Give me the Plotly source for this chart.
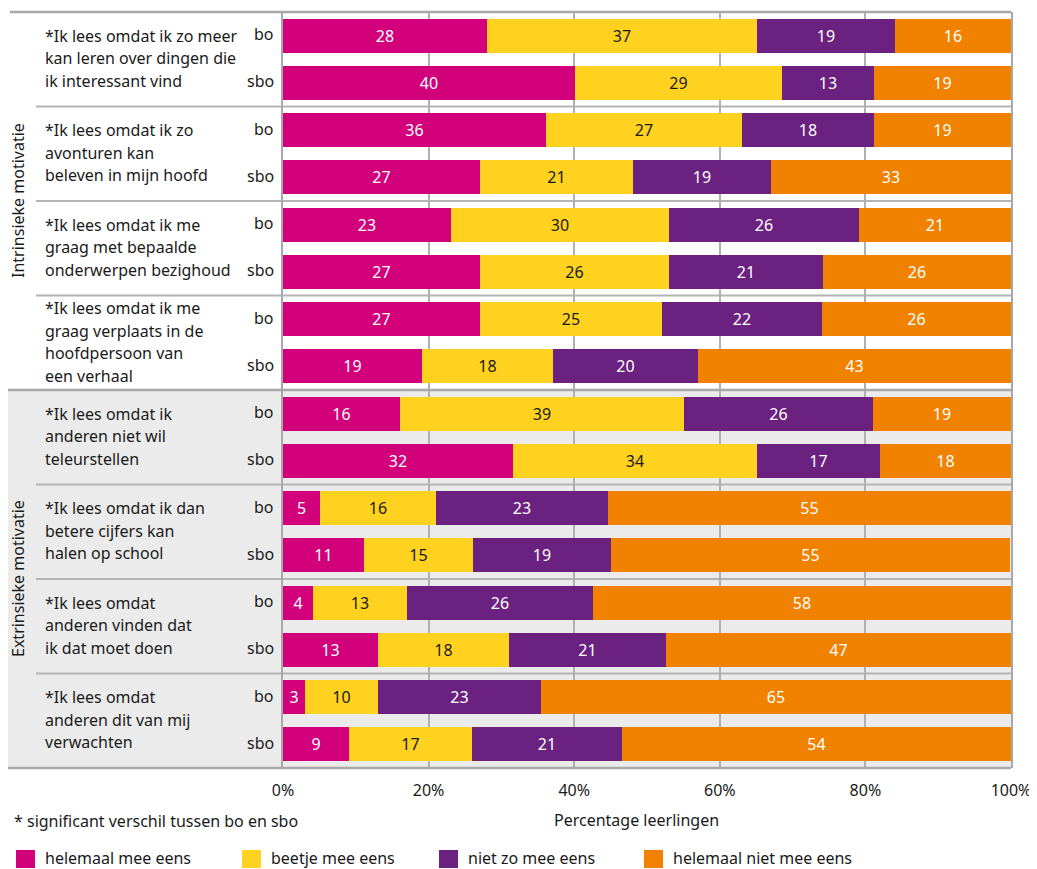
import plotly.graph_objects as go

# ---------------- data ----------------
groups = [
    "*Ik lees omdat ik zo meer<br>kan leren over dingen die<br>ik interessant vind",
    "*Ik lees omdat ik zo<br>avonturen kan<br>beleven in mijn hoofd",
    "*Ik lees omdat ik me<br>graag met bepaalde<br>onderwerpen bezighoud",
    "*Ik lees omdat ik me<br>graag verplaats in de<br>hoofdpersoon van<br>een verhaal",
    "*Ik lees omdat ik<br>anderen niet wil<br>teleurstellen",
    "*Ik lees omdat ik dan<br>betere cijfers kan<br>halen op school",
    "*Ik lees omdat<br>anderen vinden dat<br>ik dat moet doen",
    "*Ik lees omdat<br>anderen dit van mij<br>verwachten",
]
school_types = ["bo", "sbo"]
sections = ["Intrinsieke motivatie", "Extrinsieke motivatie"]

series_names = ["helemaal mee eens", "beetje mee eens", "niet zo mee eens", "helemaal niet mee eens"]

# bar values (order: group1 bo, group1 sbo, group2 bo, ...)
helemaal_mee = [28.0, 40.1, 36.1, 27.1, 23.1, 27.1, 27.1, 19.1,
                16.1, 31.6, 5.1, 11.1, 4.1, 13.0, 3.0, 9.1]
beetje_mee = [37.1, 28.4, 26.9, 21.0, 29.9, 25.9, 25.0, 18.0,
              39.0, 33.5, 15.9, 15.0, 12.9, 18.0, 10.0, 16.9]
niet_zo_mee = [19.0, 12.7, 18.2, 18.9, 26.1, 21.2, 21.9, 19.9,
               25.9, 16.9, 23.6, 19.0, 25.6, 21.6, 22.4, 20.6]
helemaal_niet = [15.9, 18.8, 18.8, 33.0, 20.9, 25.8, 26.0, 43.0,
                 19.0, 18.0, 55.4, 54.8, 57.4, 47.4, 64.6, 53.4]

# printed labels
helemaal_mee_lbl = [28, 40, 36, 27, 23, 27, 27, 19, 16, 32, 5, 11, 4, 13, 3, 9]
beetje_mee_lbl = [37, 29, 27, 21, 30, 26, 25, 18, 39, 34, 16, 15, 13, 18, 10, 17]
niet_zo_mee_lbl = [19, 13, 18, 19, 26, 21, 22, 20, 26, 17, 23, 19, 26, 21, 23, 21]
helemaal_niet_lbl = [16, 19, 19, 33, 21, 26, 26, 43, 19, 18, 55, 55, 58, 47, 65, 54]

tick_vals = [0, 20, 40, 60, 80, 100]
tick_text = ["0%", "20%", "40%", "60%", "80%", "100%"]

colors = ["#D2007A", "#FFD21F", "#6A2180", "#F08200"]
text_colors = ["#ffffff", "#1a1a1a", "#ffffff", "#ffffff"]

# ---------------- layout helpers ----------------
# the page body has an 8px margin, so the figure is placed 8px in from the window edge
OFF = 8
W, H = 1037 - OFF, 869 - OFF
L, R, T, B = 283, 1011, 12, 768  # window pixel coordinates of the plot area
FONT = "Noto Sans"
TXT = "#1a1a1a"
LINE = "#a8a8a8"


def px(x):
    return (x - L) / (R - L)


def py(y):
    return (B - y) / (B - T)


n_rows = len(groups) * len(school_types)
rows = list(range(n_rows))

fig = go.Figure()
all_vals = [helemaal_mee, beetje_mee, niet_zo_mee, helemaal_niet]
all_lbls = [helemaal_mee_lbl, beetje_mee_lbl, niet_zo_mee_lbl, helemaal_niet_lbl]
for name, vals, lbls, c, tc in zip(series_names, all_vals, all_lbls, colors, text_colors):
    fig.add_trace(go.Bar(
        name=name, orientation="h", x=vals, y=rows, width=0.72,
        marker=dict(color=c, line=dict(width=0)),
        text=[str(v) for v in lbls], textposition="inside",
        insidetextanchor="middle", textangle=0,
        textfont=dict(family=FONT, size=16, color=tc),
        hoverinfo="skip", showlegend=False,
    ))

shapes = []
# grey background for extrinsic block
shapes.append(dict(type="rect", xref="paper", yref="paper", x0=px(8), x1=1,
                   y0=0, y1=0.5, fillcolor="#ebebeb", line=dict(width=0), layer="below"))
# group separators
for g in range(1, len(groups)):
    if g == 4:
        continue
    yv = 2 * g - 0.5
    shapes.append(dict(type="line", xref="paper", yref="y", x0=px(36), x1=1,
                       y0=yv, y1=yv, line=dict(color="#b4b4b4", width=1.8), layer="below"))
# main borders
shapes.append(dict(type="line", xref="paper", yref="paper", x0=px(10), x1=1, y0=1, y1=1,
                   line=dict(color=LINE, width=2.5), layer="above"))
shapes.append(dict(type="line", xref="paper", yref="paper", x0=px(8), x1=1, y0=0.5, y1=0.5,
                   line=dict(color=LINE, width=2.5), layer="above"))
shapes.append(dict(type="line", xref="paper", yref="paper", x0=px(8), x1=1, y0=0, y1=0,
                   line=dict(color=LINE, width=2.5), layer="above"))

annotations = []
# bo / sbo labels
for i in rows:
    annotations.append(dict(xref="paper", yref="y", x=px(276), y=i, yshift=1.5,
                            xanchor="right", yanchor="middle", text=school_types[i % 2],
                            showarrow=False, font=dict(family=FONT, size=16, color=TXT)))
# group labels (one annotation per line)
LH = 22.5
for g, lab in enumerate(groups):
    lines = lab.split("<br>")
    n = len(lines)
    for j, ln in enumerate(lines):
        annotations.append(dict(xref="paper", yref="y", x=px(43), y=2 * g + 0.5,
                                yshift=-(j - (n - 1) / 2) * LH + 1,
                                xanchor="left", yanchor="middle", text=ln, showarrow=False,
                                font=dict(family=FONT, size=16, color=TXT)))
# section titles
for s, yc in zip(sections, [0.75, 0.25]):
    annotations.append(dict(xref="paper", yref="paper", x=px(18), y=yc, textangle=-90,
                            xanchor="center", yanchor="middle", text=s, showarrow=False,
                            font=dict(family=FONT, size=16, color=TXT)))
# footnote and axis title
annotations.append(dict(xref="paper", yref="paper", x=px(12), y=py(821), xanchor="left",
                        yanchor="middle", text="* significant verschil tussen bo en sbo",
                        showarrow=False, font=dict(family=FONT, size=16, color=TXT)))
annotations.append(dict(xref="paper", yref="paper", x=px(636), y=py(820), xanchor="center",
                        yanchor="middle", text="Percentage leerlingen",
                        showarrow=False, font=dict(family=FONT, size=16, color=TXT)))
# manual legend
leg_sq = [16, 242, 439, 644]
for name, c, x0 in zip(series_names, colors, leg_sq):
    shapes.append(dict(type="rect", xref="paper", yref="paper", x0=px(x0), x1=px(x0 + 19),
                       y0=py(868), y1=py(850), fillcolor=c, line=dict(width=0), layer="above"))
    annotations.append(dict(xref="paper", yref="paper", x=px(x0 + 27), y=py(858),
                            xanchor="left", yanchor="middle", text=name, showarrow=False,
                            font=dict(family=FONT, size=16, color=TXT)))

fig.update_layout(
    width=W, height=H,
    margin=dict(l=L - OFF, r=W - (R - OFF), t=T - OFF, b=H - (B - OFF), pad=0),
    barmode="stack", bargap=0,
    plot_bgcolor="rgba(0,0,0,0)", paper_bgcolor="#ffffff",
    font=dict(family=FONT, size=16, color=TXT),
    xaxis=dict(range=[0, 100], tickvals=tick_vals, ticktext=tick_text, showgrid=True,
               gridcolor="#b0b0b0", gridwidth=1.6, zeroline=False, showline=False,
               ticks="", ticklabelstandoff=11,
               tickfont=dict(family=FONT, size=16, color=TXT), fixedrange=True),
    yaxis=dict(range=[n_rows - 0.5, -0.5], showticklabels=False, showgrid=False,
               zeroline=False, showline=True, mirror=True, linecolor=LINE, linewidth=2,
               ticks="", fixedrange=True),
    shapes=shapes, annotations=annotations, showlegend=False,
)

fig.write_html("out.html")
